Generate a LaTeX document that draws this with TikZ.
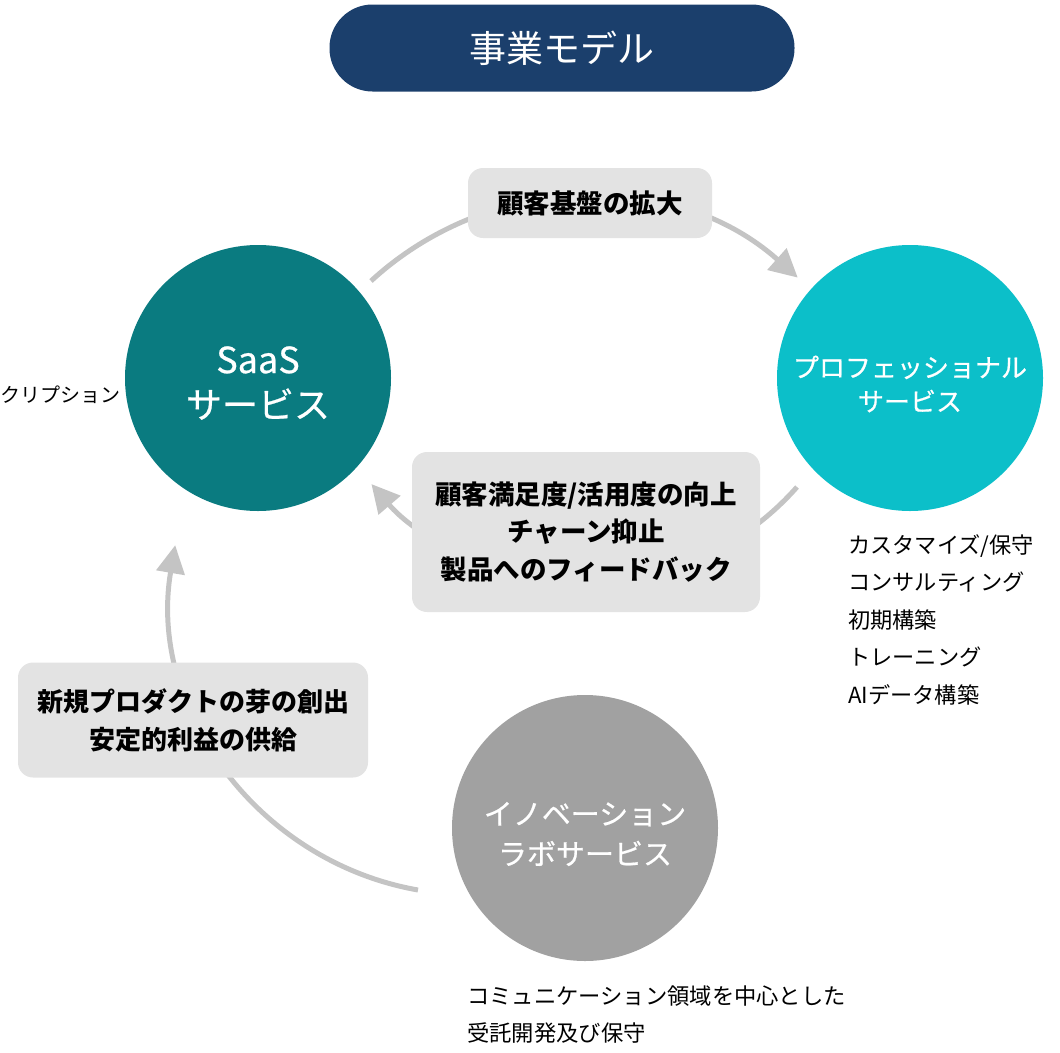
\documentclass[tikz,border=0pt]{standalone}
\usepackage{fontspec}
\setmainfont{Noto Sans CJK JP}
\newfontfamily\medfont{Noto Sans CJK JP}[FakeBold=0.6]
\usetikzlibrary{arrows.meta}
\definecolor{titlenavy}{HTML}{1B3F6C}
\definecolor{saasteal}{HTML}{0A7B80}
\definecolor{procyan}{HTML}{0CBFC9}
\definecolor{labgray}{HTML}{A1A1A1}
\definecolor{boxgray}{HTML}{E3E3E3}
\definecolor{flowgray}{HTML}{C4C4C4}
\newcommand{\fs}[2]{\fontsize{#1}{#2}\selectfont}

\begin{document}
\begin{tikzpicture}[x=1pt, y=-1pt,
  svc/.style={circle, minimum size=266pt, inner sep=0pt},
  svctxt/.style={text=white, align=center},
  lbl/.style={fill=boxgray, rounded corners=15pt, align=center, inner sep=0pt, font=\bfseries\fs{26.5}{38}},
  flow/.style={draw=flowgray, line width=5pt, -{Triangle[length=28pt, width=28pt]}}]

\useasboundingbox (0,0) rectangle (1060,1052);

% --- titolo ---
\node[fill=titlenavy, rounded corners=43pt, minimum width=465pt, minimum height=87pt,
      text=white, font=\fs{37}{42}] (title) at (562,48) {事業モデル};

% --- frecce del ciclo ---
\coordinate (f0) at (371,281);   % SaaS -> pro
\coordinate (f1) at (797,487);   % pro -> SaaS
\coordinate (f2) at (418,890);   % lab -> SaaS
\draw[flow] (f0) arc[start angle=132.6, end angle=48.3, radius=318pt];
\draw[flow] (f1) arc[start angle=-41.4, end angle=-139.4, radius=282pt];
\draw[flow] (f2) arc[start angle=260, end angle=170.3, radius=299pt];

% --- servizi ---
\node[svc, fill=saasteal] (saas) at (258,378) {};
\node[svc, fill=procyan] (pro) at (910,378) {};
\node[svc, fill=labgray] (lab) at (585,828) {};
\node[svctxt, font=\medfont\fs{36}{45}] (saast) at ([yshift=-5pt]saas) {SaaS\\サービス};
\node[svctxt, font=\medfont\fs{26}{34}] (prot) at ([yshift=-6pt]pro) {プロフェッショナル\\サービス};
\node[svctxt, font=\medfont\fs{29}{40}] (labt) at ([yshift=-6pt]lab) {イノベーション\\ラボサービス};

% --- etichette ---
\node[lbl, minimum width=244pt, minimum height=70pt] (b1) at (590,203) {顧客基盤の拡大};
\node[lbl, minimum width=348pt, minimum height=160pt, font=\bfseries\fs{26.5}{37.5}] (b2) at (586,532)
      {顧客満足度/活用度の向上\\チャーン抑止\\製品へのフィードバック};
\node[lbl, minimum width=350pt, minimum height=115pt, font=\bfseries\fs{26}{38}] (b3) at (193,720)
      {新規プロダクトの芽の創出\\安定的利益の供給};

% --- testi laterali ---
\node[anchor=west, inner sep=0pt, font=\fs{20}{24}] (sub) at (0,395) {クリプション};
\node[anchor=north west, inner sep=0pt, align=left, font=\fs{22.2}{37.5}] (prolist) at (848,534)
      {カスタマイズ/保守\\コンサルティング\\初期構築\\トレーニング\\AIデータ構築};
\node[anchor=north west, inner sep=0pt, align=left, font=\fs{22.3}{37}] (labtxt) at (467,986)
      {コミュニケーション領域を中心とした\\受託開発及び保守};

\end{tikzpicture}
\end{document}
